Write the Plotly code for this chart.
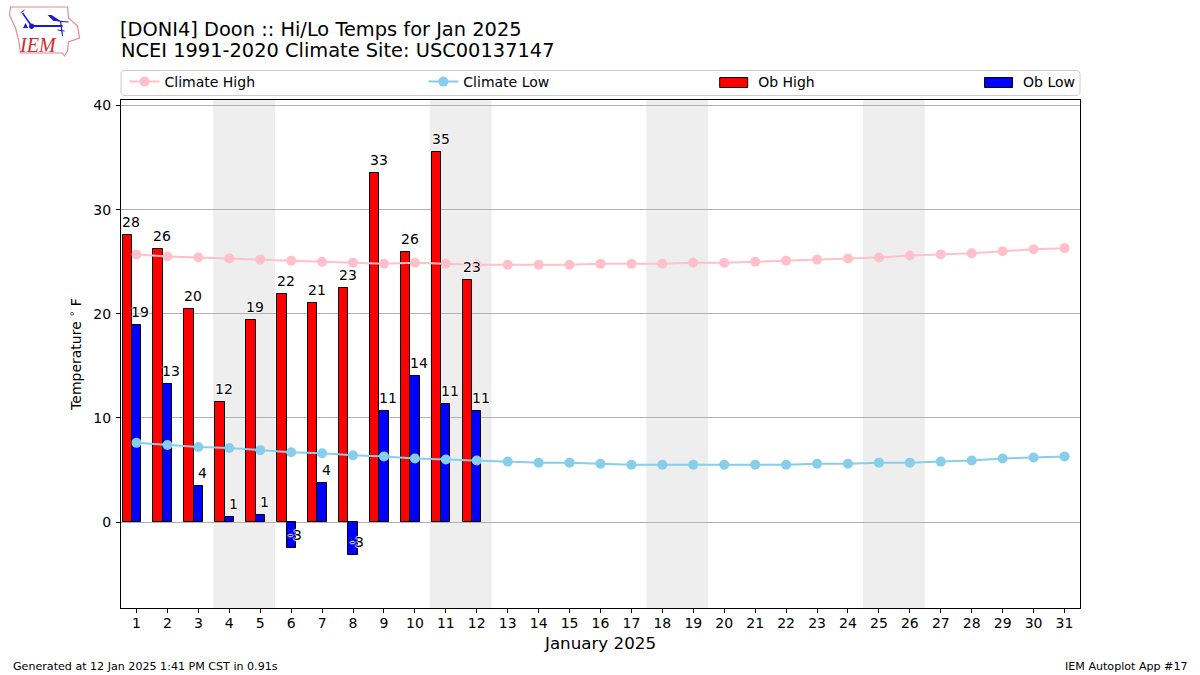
import plotly.graph_objects as go

days = list(range(1, 32))
ob_days = list(range(1, 13))
climate_high = [25.7,25.5,25.4,25.3,25.2,25.1,25.0,24.9,24.8,24.9,24.8,24.7,24.7,24.7,24.7,24.8,24.8,24.8,24.9,24.9,25.0,25.1,25.2,25.3,25.4,25.6,25.7,25.8,26.0,26.2,26.3]
climate_low = [7.6,7.4,7.2,7.1,6.9,6.7,6.6,6.4,6.3,6.1,6.0,5.9,5.8,5.7,5.7,5.6,5.5,5.5,5.5,5.5,5.5,5.5,5.6,5.6,5.7,5.7,5.8,5.9,6.1,6.2,6.3]
ob_high = [27.6,26.2,20.5,11.5,19.4,21.9,21.0,22.5,33.5,25.9,35.5,23.2]
ob_low = [18.9,13.3,3.5,0.5,0.7,-2.5,3.7,-3.2,10.7,14.0,11.3,10.7]
ob_high_labels = ["28","26","20","12","19","22","21","23","33","26","35","23"]
ob_low_labels = ["19","13","4","1","1","-3","4","-3","11","14","11","11"]
weekends = [(3.5,5.5),(10.5,12.5),(17.5,19.5),(24.5,26.5)]
yticks = [0,10,20,30,40]

FONT = "DejaVu Sans"
W, H = 1200, 675
L, R, T, B = 120.5, 1080, 100, 608
def px(x): return (x - L) / (R - L)
def py(y): return (B - y) / (B - T)
def pth(pts, close=False):
    s = "M" + " L".join(f"{px(x):.5f},{py(y):.5f}" for x, y in pts)
    return s + (" Z" if close else "")

fig = go.Figure()
BW = 0.3
RED, BLUE = "#ff0000", "#0000ff"
fig.add_bar(x=ob_days, y=ob_high, name="Ob High", width=BW, offset=-0.45, legendgroup="hi", showlegend=False,
            marker=dict(color=RED, line=dict(color="black", width=1)))
fig.add_bar(x=ob_days, y=ob_low, name="Ob Low", width=BW, offset=-0.15, legendgroup="lo", showlegend=False,
            marker=dict(color=BLUE, line=dict(color="black", width=1)))
fig.add_scatter(x=days, y=climate_high, name="Climate High", mode="lines+markers",
                line=dict(color="#ffc0cb", width=2), marker=dict(color="#ffc0cb", size=10), legend="legend")
fig.add_scatter(x=days, y=climate_low, name="Climate Low", mode="lines+markers",
                line=dict(color="#87ceeb", width=2), marker=dict(color="#87ceeb", size=10), legend="legend2")
# legend-only entries for the bars; their swatches are the rectangles drawn below
fig.add_scatter(x=[None], y=[None], name="Ob High", mode="lines", legendgroup="hi",
                line=dict(color="rgba(0,0,0,0)", width=1), legend="legend3", hoverinfo="skip")
fig.add_scatter(x=[None], y=[None], name="Ob Low", mode="lines", legendgroup="lo",
                line=dict(color="rgba(0,0,0,0)", width=1), legend="legend4", hoverinfo="skip")

halo = "white 1px 0px 1px, white -1px 0px 1px, white 0px 1px 1px, white 0px -1px 1px"
ann = []
for d, v, t in zip(ob_days, ob_high, ob_high_labels):
    ann.append(dict(x=d-0.17, y=v, text=t, xref="x", yref="y", showarrow=False, yshift=13,
                    font=dict(family=FONT, size=14, color="black", shadow=halo)))
for d, v, t in zip(ob_days, ob_low, ob_low_labels):
    ann.append(dict(x=d+0.13, y=v, text=t, xref="x", yref="y", showarrow=False, yshift=13,
                    font=dict(family=FONT, size=14, color="black", shadow=halo)))
ann.append(dict(x=px(120), y=py(50.5), xref="paper", yref="paper", text="NCEI 1991-2020 Climate Site: USC00137147",
                showarrow=False, xanchor="left", yanchor="middle", xshift=-2, font=dict(family=FONT, size=19.4, color="black")))
ann.append(dict(x=px(12), y=py(666), xref="paper", yref="paper", text="Generated at 12 Jan 2025 1:41 PM CST in 0.91s",
                showarrow=False, xanchor="left", yanchor="middle", xshift=-2, font=dict(family=FONT, size=11.1, color="black")))
ann.append(dict(x=px(1188), y=py(666), xref="paper", yref="paper", text="IEM Autoplot App #17",
                showarrow=False, xanchor="right", yanchor="middle", xshift=2, font=dict(family=FONT, size=11.1, color="black")))
ann.append(dict(x=px(37.5), y=py(45), xref="paper", yref="paper", text="<i>IEM</i>", showarrow=False,
                xanchor="center", yanchor="middle", font=dict(family="Liberation Serif", size=20, color="#d62a32")))

shapes = []
for a, b in weekends:
    shapes.append(dict(type="rect", xref="x", yref="paper", x0=a-0.02, x1=b-0.02, y0=0, y1=1,
                       fillcolor="#eeeeee", line=dict(width=0), layer="below"))
# legend frame
shapes.append(dict(type="path", xref="paper", yref="paper", layer="below",
                   path=pth([(122.5,70.5),(1077.5,70.5),(1080,73),(1080,93),(1077.5,95.5),(122.5,95.5),(120.5,93),(120.5,73)], True),
                   fillcolor="white", line=dict(color="#cccccc", width=1)))
# legend swatches for the bars
for x0, col in ((719.5, RED), (984.5, BLUE)):
    shapes.append(dict(type="rect", xref="paper", yref="paper", x0=px(x0), x1=px(x0+28), y0=py(87.5), y1=py(77.5),
                       fillcolor=col, line=dict(color="black", width=1)))
# logo
outline = [(10,7),(67,7),(68,18),(77,26),(78,32),(79,38),(68,42),(67,51),(64,56),(62,53),(20,53),(18,40),(15,28),(9,15)]
shapes.append(dict(type="path", xref="paper", yref="paper", path=pth(outline, True),
                   line=dict(color="#e58a95", width=1.2)))
LOGO = "#1a1ad6"
for seg, w in (([(31,26),(62,26)],2), ([(22,13),(31,26)],1.5), ([(60,21),(62,36)],1.2), ([(57,30),(64,31)],1),
               ([(20,13),(24,10)],1), ([(57,21),(68,22)],1.2)):
    shapes.append(dict(type="path", xref="paper", yref="paper", path=pth(seg), line=dict(color=LOGO, width=w)))
shapes.append(dict(type="path", xref="paper", yref="paper", path=pth([(47,15),(51,15),(60,21),(53,21)], True),
                   fillcolor=LOGO, line=dict(width=0)))
shapes.append(dict(type="circle", xref="paper", yref="paper", x0=px(28.5), x1=px(33.5), y0=py(29), y1=py(23.5),
                   fillcolor=LOGO, line=dict(width=0)))
shapes.append(dict(type="path", xref="paper", yref="paper", path=pth([(25,23),(27.5,28),(22.5,28)], True),
                   fillcolor=LOGO, line=dict(width=0)))

def leg(text_x):
    return dict(x=px(text_x-40), xref="paper", y=py(82), yref="paper", xanchor="left", yanchor="middle",
                bgcolor="rgba(0,0,0,0)", borderwidth=0, itemwidth=30,
                font=dict(family=FONT, size=14, color="black"))

fig.update_layout(
    width=W, height=H, autosize=False, plot_bgcolor="white", paper_bgcolor="white",
    margin=dict(l=L, r=W-R, t=T, b=H-B, pad=0, autoexpand=False),
    barmode="overlay", bargap=0, showlegend=True,
    font=dict(family=FONT, size=14, color="black"),
    title=dict(text="[DONI4] Doon :: Hi/Lo Temps for Jan 2025",
               x=120/W, xref="container", xanchor="left", y=1-29/H, yref="container", yanchor="middle",
               font=dict(family=FONT, size=19.4, color="black")),
    legend=leg(164), legend2=leg(463), legend3=leg(758), legend4=leg(1023),
    xaxis=dict(range=[0.5,31.5], tickmode="array", tickvals=days, ticktext=[str(d) for d in days],
               ticks="outside", ticklen=4, tickwidth=1, tickcolor="black", showgrid=False, zeroline=False,
               showline=True, linecolor="black", linewidth=1, mirror=True, tickangle=0, ticklabelstandoff=-2,
               title=dict(text="January 2025", font=dict(family=FONT, size=16.7), standoff=7),
               tickfont=dict(family=FONT, size=14)),
    yaxis=dict(range=[-8.26,40.53], tickmode="array", tickvals=yticks, ticktext=[str(t) for t in yticks],
               ticks="outside", ticklen=4, tickwidth=1, tickcolor="black", showgrid=True, gridcolor="#b0b0b0",
               gridwidth=1, zeroline=False, showline=True, linecolor="black", linewidth=1, mirror=True, ticklabelstandoff=2,
               title=dict(text="Temperature <sup>∘</sup> F", font=dict(family=FONT, size=14), standoff=8),
               tickfont=dict(family=FONT, size=14)),
    annotations=ann, shapes=shapes,
)
fig.write_html("out.html", post_script="document.body.style.margin='0';", config=dict(displayModeBar=False))
